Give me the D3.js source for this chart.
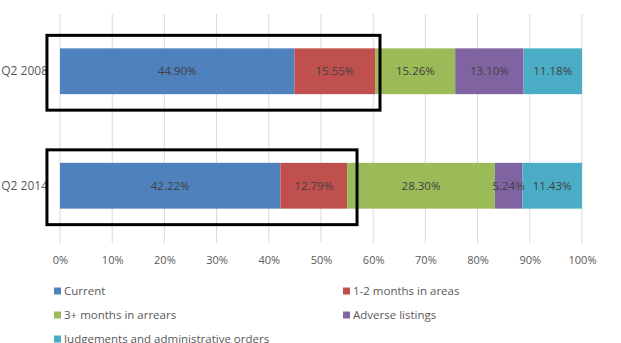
<!DOCTYPE html>
<html>
<head>
<meta charset="utf-8">
<script src="https://cdn.jsdelivr.net/npm/d3@7"></script>
<style>
  body { margin: 0; background: #fff; }
  svg text { font-family: "Open Sans", "Liberation Sans", sans-serif; }
</style>
</head>
<body>
<div id="chart"></div>
<script>
// Chart data
var periods = ["Q2 2008", "Q2 2014"];
var categories = ["Current", "1-2 months in areas", "3+ months in arrears",
                  "Adverse listings", "Judgements and administrative orders"];
var values2008 = [44.90, 15.55, 15.26, 13.10, 11.18];
var values2014 = [42.22, 12.79, 28.30, 5.24, 11.43];
var colors = ["#4f81bd", "#c0504d", "#9bbb59", "#8064a2", "#4bacc6"];
var xTicks = [0, 10, 20, 30, 40, 50, 60, 70, 80, 90, 100];
// hand drawn highlight boxes, left and right edge in % of the axis
var boxStart = -2.5;
var boxEnds = [61.3, 56.9];

var width = 621, height = 343;
var margin = {top: 14, right: 39, bottom: 100, left: 60};

var svg = d3.select("#chart").append("svg")
    .attr("width", width)
    .attr("height", height);

var xScale = d3.scaleLinear().domain([0, 100]).range([margin.left, width - margin.right]);
var yScale = d3.scaleBand().domain(periods)
    .range([margin.top, height - margin.bottom]).paddingInner(0.6).paddingOuter(0.3);

// gridlines
svg.append("g")
  .selectAll("line")
  .data(xTicks)
  .enter().append("line")
    .attr("x1", function(d) { return xScale(d); })
    .attr("x2", function(d) { return xScale(d); })
    .attr("y1", margin.top)
    .attr("y2", height - margin.bottom)
    .attr("stroke", "#d9d9d9")
    .attr("stroke-width", 1);

// x axis labels
var xAxis = d3.axisBottom(xScale).tickValues(xTicks)
    .tickFormat(function(d) { return d + "%"; }).tickSize(0).tickPadding(0);
var gx = svg.append("g")
    .attr("transform", "translate(0," + (height - margin.bottom + 13) + ")")
    .call(xAxis);
gx.select(".domain").remove();
gx.selectAll("text").attr("font-size", "11px").attr("fill", "#595959")
    .attr("font-family", "Open Sans");

// y labels
svg.append("g")
  .selectAll("text")
  .data(periods)
  .enter().append("text")
    .attr("x", 48)
    .attr("y", function(d) { return yScale(d) + yScale.bandwidth() / 2; })
    .attr("dy", "0.35em")
    .attr("text-anchor", "end")
    .attr("font-size", "12px")
    .attr("fill", "#595959")
    .text(function(d) { return d; });

// build stacked rows
var rows = [values2008, values2014].map(function(vals, i) {
  var acc = 0;
  return vals.map(function(v, j) {
    var seg = {period: periods[i], cat: j, value: v, x0: acc, x1: acc + v};
    acc += v;
    return seg;
  });
});

var segs = d3.merge(rows);

svg.append("g")
  .selectAll("rect")
  .data(segs)
  .enter().append("rect")
    .attr("x", function(d) { return xScale(d.x0); })
    .attr("width", function(d) { return xScale(d.x1) - xScale(d.x0); })
    .attr("y", function(d) { return yScale(d.period); })
    .attr("height", yScale.bandwidth())
    .attr("fill", function(d) { return colors[d.cat]; });

svg.append("g")
  .selectAll("text")
  .data(segs)
  .enter().append("text")
    .attr("x", function(d) { return xScale((d.x0 + d.x1) / 2); })
    .attr("y", function(d) { return yScale(d.period) + yScale.bandwidth() / 2; })
    .attr("dy", "0.35em")
    .attr("text-anchor", "middle")
    .attr("font-size", "11.5px")
    .attr("fill", "#404040")
    .text(function(d) { return d.value.toFixed(2) + "%"; });

// highlight boxes round the first two segments
svg.append("g")
  .selectAll("rect")
  .data(periods)
  .enter().append("rect")
    .attr("x", xScale(boxStart))
    .attr("width", function(p, i) { return xScale(boxEnds[i]) - xScale(boxStart); })
    .attr("y", function(p) { return yScale(p) - 13; })
    .attr("height", yScale.bandwidth() + 29)
    .attr("fill", "none")
    .attr("stroke", "#000")
    .attr("stroke-width", 3);

// legend
var legend = svg.append("g")
  .selectAll("g")
  .data(categories)
  .enter().append("g")
    .attr("transform", function(d, i) {
      return "translate(" + (i % 2 ? 343 : 54) + "," + (291 + Math.floor(i / 2) * 24) + ")";
    });

legend.append("rect")
    .attr("x", 0).attr("y", -3.5)
    .attr("width", 7).attr("height", 7)
    .attr("fill", function(d, i) { return colors[i]; });

legend.append("text")
    .attr("x", 10)
    .attr("dy", "0.35em")
    .attr("font-size", "11.5px")
    .attr("fill", "#595959")
    .text(function(d) { return d; });
</script>
</body>
</html>
